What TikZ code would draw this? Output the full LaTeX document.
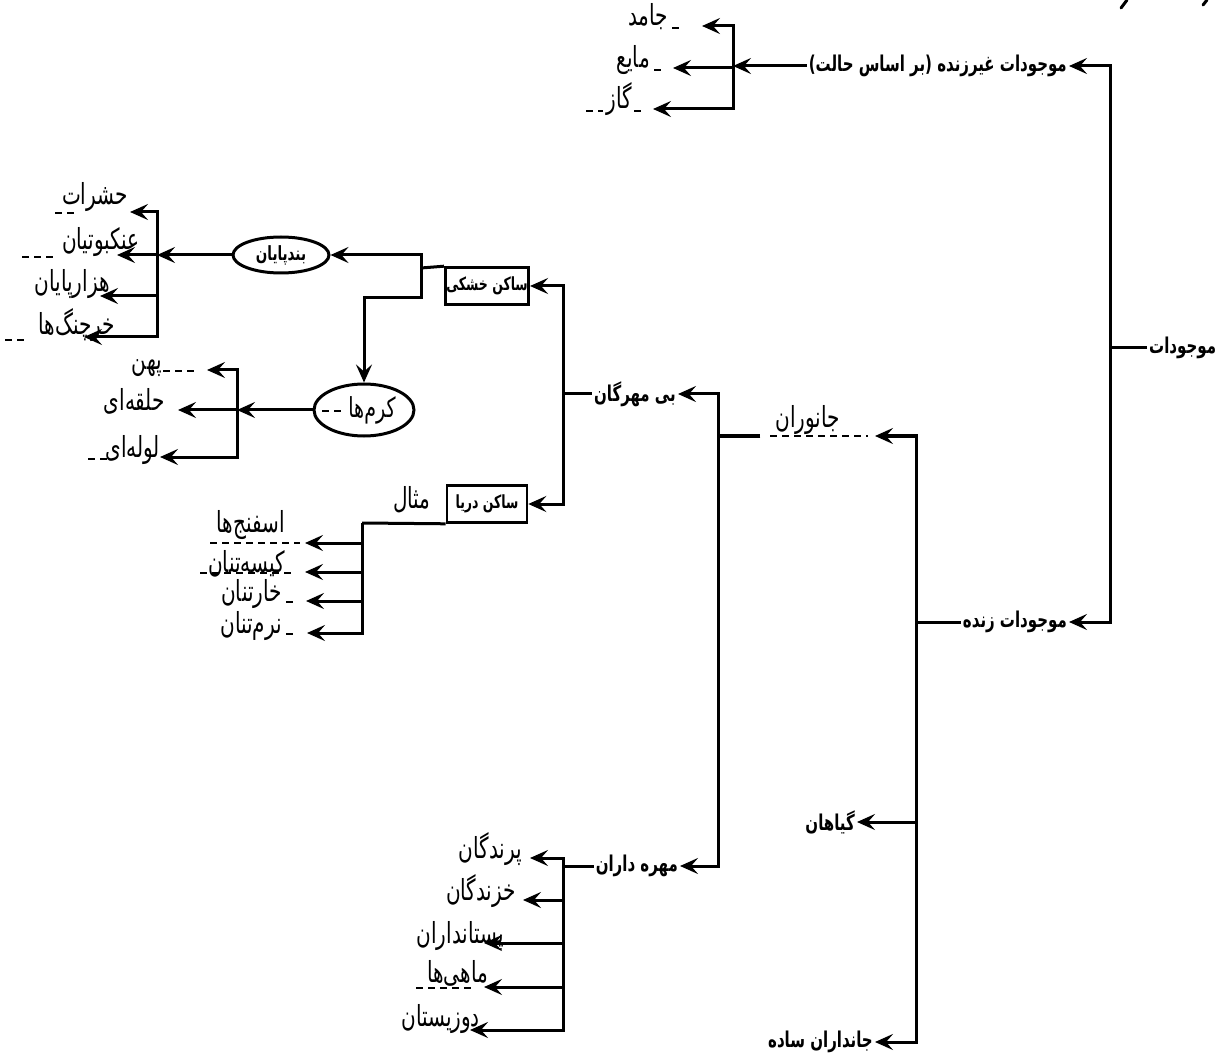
\documentclass[tikz,border=0pt]{standalone}
\usepackage{fontspec}
\usepackage{graphicx}
\usepackage{tikz}
\usetikzlibrary{positioning,arrows.meta,calc,shapes.geometric}
\TeXXeTstate=1
\newfontfamily\fafont[Script=Arabic]{DejaVu Sans}
\newcommand{\fa}[1]{\scalebox{1}[1.45]{\beginR #1\endR}}
\tikzset{
  lbl/.style  ={font=\fafont\bfseries\fontsize{15}{18}\selectfont, inner sep=2pt},
  leaf/.style ={font=\fafont\fontsize{20}{24}\selectfont, inner sep=0pt, anchor=base east},
  kbox/.style ={lbl, font=\fafont\bfseries\fontsize{12.5}{15}\selectfont, draw, line width=2.6pt,
                minimum width=80pt, minimum height=37pt, inner sep=1pt},
  oval/.style ={lbl, draw, ellipse, line width=3pt, inner sep=0pt},
  ln/.style   ={line width=3pt},
  ar/.style   ={ln, -{Stealth[length=18pt,width=16pt,inset=7pt]}},
  ghost/.style={line width=2.4pt, dash pattern=on 7pt off 5pt},
}

\begin{document}
\begin{tikzpicture}[x=1pt,y=-1pt]
\useasboundingbox (0,0) rectangle (1221,1056);

% bars
\coordinate (bR) at (1110,348);
\coordinate (bA) at (733,66);
\coordinate (bB) at (916,622);
\coordinate (bC) at (718,436);
\coordinate (bD) at (563,394);
\coordinate (bE) at (421,268);
\coordinate (bF) at (157,255);
\coordinate (bG) at (237,410);
\coordinate (bH) at (362,523);
\coordinate (bI) at (563,866);

% main labels
\node[lbl,anchor=west] (root) at (1147,348) {\fa{موجودات}};
\node[lbl,anchor=east] (abio) at (1069,66) {\fa{موجودات غیرزنده (بر اساس حالت)}};
\node[lbl,anchor=east] (bio) at (1069,622) {\fa{موجودات زنده}};
\node[leaf] (anim) at (840,428) {\fa{جانوران}};
\node[lbl,anchor=east] (plant) at (857,822) {\fa{گیاهان}};
\node[lbl,anchor=east] (simple) at (875,1042) {\fa{جانداران ساده}};
\node[lbl,anchor=east] (inv) at (678,394) {\fa{بی مهرگان}};
\node[lbl,anchor=east] (vert) at (680,866) {\fa{مهره داران}};
\node[kbox] (land) at (487,286) {\fa{ساکن خشکی}};
\node[kbox] (sea) at (487,504) {\fa{ساکن دریا}};
\node[oval,font=\fafont\bfseries\fontsize{13.5}{16}\selectfont,minimum width=96pt,minimum height=36pt] (arth) at (281,255) {\fa{بندپایان}};
\node[oval,font=\fafont\fontsize{19}{22}\selectfont,minimum width=100pt,minimum height=52pt] (worm) at (364,410) {\hspace*{16pt}\fa{کرم‌ها}};
\node[leaf,anchor=center] (ex) at (412,500) {\fa{مثال}};

% leaves
\node[leaf] (jamed) at (668,26) {\fa{جامد}};
\node[leaf] (mayea) at (650,68) {\fa{مایع}};
\node[leaf] (gaz) at (632,109) {\fa{گاز}};
\node[leaf] (insect) at (128,205) {\fa{حشرات}};
\node[leaf] (spider) at (140,250) {\fa{عنکبوتیان}};
\node[leaf] (milli) at (110,292) {\fa{هزارپایان}};
\node[leaf] (crab) at (115,335) {\fa{خرچنگ‌ها}};
\node[leaf] (flat) at (162,370) {\fa{پهن}};
\node[leaf] (ring) at (165,410) {\fa{حلقه‌ای}};
\node[leaf] (tube) at (160,457) {\fa{لوله‌ای}};
\node[leaf] (sponge) at (285,532) {\fa{اسفنج‌ها}};
\node[leaf] (cnid) at (285,572) {\fa{کیسه‌تنان}};
\node[leaf] (echin) at (282,601) {\fa{خارتنان}};
\node[leaf] (moll) at (282,633) {\fa{نرم‌تنان}};
\node[leaf] (bird) at (522,858) {\fa{پرندگان}};
\node[leaf] (rept) at (516,900) {\fa{خزندگان}};
\node[leaf] (mamm) at (504,943) {\fa{پستانداران}};
\node[leaf] (fish) at (488,982) {\fa{ماهی‌ها}};
\node[leaf] (amph) at (480,1026) {\fa{دوزیستان}};

% connectors
\draw[ln] (root.west) -- (bR);
\draw[ar] (bR) |- (abio.east); \draw[ar] (bR) |- (bio.east);
\draw[ar] (abio.west) -- (bA);
\draw[ar] (bA) |- ([xshift=34pt]jamed.base east);
\draw[ar] (bA) |- ([xshift=23pt]mayea.base east);
\draw[ar] (bA) |- ([xshift=21pt]gaz.base east);
\draw[ln] (bio.west) -- (bB);
\draw[ar] (bB) |- ([xshift=35pt,yshift=-8pt]anim.base east);
\draw[ar] (bB) |- (plant.east); \draw[ar] (bB) |- (simple.east);
\draw[ln] ([xshift=-15pt,yshift=-8pt]anim.base west) -- (bC);
\draw[ar] (bC) |- (inv.east); \draw[ar] (bC) |- (vert.east);
\draw[ln] (inv.west) -- (bD);
\draw[ar] (bD) |- (land.east); \draw[ar] (bD) |- (sea.east);
\draw[ln] (land.north west) -- (bE);
\draw[ar] (bE) |- (arth.east);
\draw[ar] (bE) -- ++(0,30) -| (worm.north);
\draw[ar] (arth.west) -- (bF);
\draw[ar] (bF) |- ([xshift=2pt,yshift=-7pt]insect.base east);
\draw[ar] (bF) |- ([xshift=-23pt,yshift=-5pt]spider.base east);
\draw[ar] (bF) |- ([xshift=-10pt,yshift=-4pt]milli.base east);
\draw[ar] (bF) |- ([xshift=-31pt,yshift=-2pt]crab.base east);
\draw[ar] (worm.west) -- (bG);
\draw[ar] (bG) |- ([xshift=45pt]flat.base east);
\draw[ar] (bG) |- ([xshift=13pt]ring.base east);
\draw[ar] (bG) |- (tube.base east);
\draw[ln] (sea.south west) -- (bH);
\draw[ar] (bH) |- ([xshift=20pt,yshift=-11pt]sponge.base east);
\draw[ar] (bH) |- ([xshift=20pt]cnid.base east);
\draw[ar] (bH) |- ([xshift=24pt]echin.base east);
\draw[ar] (bH) |- ([xshift=25pt]moll.base east);
\draw[ln] (vert.west) -- (bI);
\draw[ar] (bI) |- ([xshift=8pt]bird.base east);
\draw[ar] (bI) |- ([xshift=7pt]rept.base east);
\draw[ar] (bI) |- ([xshift=-20pt]mamm.base east);
\draw[ar] (bI) |- ([xshift=-4pt,yshift=-5pt]fish.base east);
\draw[ar] (bI) |- ([xshift=-10pt,yshift=-4pt]amph.base east);

% dashed leftovers under the labels
\draw[ghost] (672,28) -- (682,28); \draw[ghost] (654,70) -- (663,70);
\draw[ghost] (586,111) -- (603,111); \draw[ghost] (634,111) -- (643,111);
\draw[ghost] ([xshift=-5pt,yshift=-8pt]anim.base west) -- ([xshift=28pt,yshift=-8pt]anim.base east);
\draw[ghost] (55,213) -- (78,213); \draw[ghost] (22,257) -- (55,257);
\draw[ghost] (5,340) -- (28,340); \draw[ghost] (163,371) -- (195,371);
\draw[ghost] (322,411) -- (346,411); \draw[ghost] (88,459) -- (110,459);
\draw[ghost] (210,543) -- (300,543); \draw[ghost] (200,573) -- (293,573);
\draw[ghost] (286,602) -- (298,602); \draw[ghost] (286,634) -- (298,634);
\draw[ghost] (416,988) -- (475,988);
\draw[ln,line cap=round] (1121,8) -- (1127,0); \draw[ln,line cap=round] (1203,5) -- (1207,0);
\end{tikzpicture}
\end{document}
